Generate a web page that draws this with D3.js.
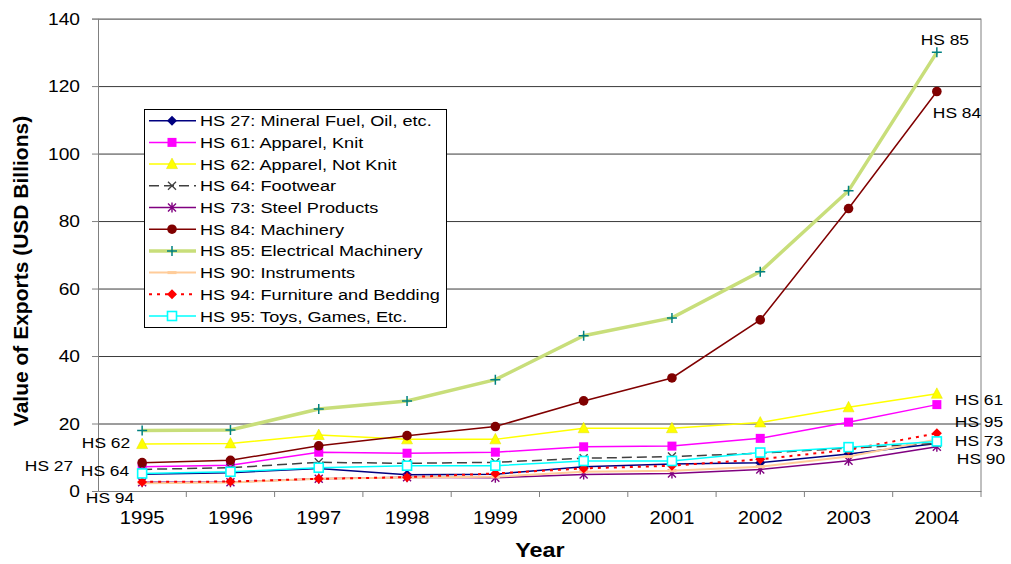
<!DOCTYPE html>
<html>
<head>
<meta charset="utf-8">
<script src="https://cdn.jsdelivr.net/npm/d3@7"></script>
<style>
  body { margin: 0; background: #fff; }
  text { font-family: "Liberation Sans", Arial, sans-serif; fill: #000; }
</style>
</head>
<body>
<div id="chart"></div>
<script>
// ---------------- data (USD billions) ----------------
var years = [1995, 1996, 1997, 1998, 1999, 2000, 2001, 2002, 2003, 2004];
var hs27 = [5.0, 5.4, 6.7, 4.8, 5.0, 7.2, 8.0, 8.4, 11.0, 14.1];
var hs61 = [7.2, 7.6, 11.5, 11.2, 11.5, 13.1, 13.3, 15.6, 20.4, 25.6];
var hs62 = [13.9, 14.1, 16.6, 15.3, 15.3, 18.6, 18.6, 20.3, 24.8, 28.8];
var hs64 = [6.4, 6.9, 8.5, 8.2, 8.5, 9.7, 10.2, 11.2, 12.7, 14.1];
var hs73 = [2.6, 2.6, 3.6, 4.1, 3.9, 4.9, 5.2, 6.4, 9.0, 13.1];
var hs84 = [8.4, 9.1, 13.4, 16.4, 19.1, 26.7, 33.5, 50.7, 83.7, 118.4];
var hs85 = [17.9, 18.1, 24.3, 26.7, 33.0, 46.0, 51.3, 65.0, 89.0, 130.0];
var hs90 = [2.3, 2.5, 3.6, 4.0, 4.2, 5.7, 6.0, 7.2, 10.2, 15.3];
var hs94 = [2.7, 2.8, 3.6, 4.1, 5.2, 6.7, 7.5, 9.4, 12.2, 17.1];
var hs95 = [5.2, 5.7, 6.9, 7.5, 7.5, 8.9, 8.9, 11.4, 13.0, 14.7];
var yTicks = [0, 20, 40, 60, 80, 100, 120, 140];

var series = [
  {name: "HS 27: Mineral Fuel, Oil, etc.", values: hs27, color: "#000080", width: 1.5, marker: "diamond", mColor: "#000080"},
  {name: "HS 61: Apparel, Knit", values: hs61, color: "#ff00ff", width: 1.5, marker: "square", mColor: "#ff00ff"},
  {name: "HS 62: Apparel, Not Knit", values: hs62, color: "#ffff00", width: 1.5, marker: "triangle", mColor: "#ffff00"},
  {name: "HS 64: Footwear", values: hs64, color: "#404040", width: 1.5, dash: "10,5", marker: "x", mColor: "#404040"},
  {name: "HS 73: Steel Products", values: hs73, color: "#800080", width: 1.5, marker: "star", mColor: "#800080"},
  {name: "HS 84: Machinery", values: hs84, color: "#800000", width: 1.5, marker: "circle", mColor: "#800000"},
  {name: "HS 85: Electrical Machinery", values: hs85, color: "#c8de7a", width: 3.5, marker: "plus", mColor: "#008080"},
  {name: "HS 90: Instruments", values: hs90, color: "#ffcc99", width: 2, marker: "dash", mColor: "#ffcc99"},
  {name: "HS 94: Furniture and Bedding", values: hs94, color: "#ff0000", width: 2, dash: "3,5", marker: "diamond", mColor: "#ff0000"},
  {name: "HS 95: Toys, Games, Etc.", values: hs95, color: "#00ffff", width: 1.5, marker: "hollowSquare", mColor: "#00ffff"}
];

// end-of-line annotations: which value/year they sit next to
var pointLabels = [
  {text: "HS 85", year: 2004, value: 133.8, dx: 8, anchor: "middle"},
  {text: "HS 84", year: 2004, value: 112.1, dx: -4, anchor: "start"},
  {text: "HS 61", year: 2004, value: 27.0, dx: 18, anchor: "start"},
  {text: "HS 95", year: 2004, value: 20.6, dx: 18, anchor: "start"},
  {text: "HS 73", year: 2004, value: 14.8, dx: 18, anchor: "start"},
  {text: "HS 90", year: 2004, value: 9.5, dx: 20, anchor: "start"},
  {text: "HS 62", year: 1995, value: 14.2, dx: -12, anchor: "end"},
  {text: "HS 27", year: 1995, value: 7.4, dx: -69, anchor: "end"},
  {text: "HS 64", year: 1995, value: 5.9, dx: -13, anchor: "end"},
  {text: "HS 94", year: 1995, value: -2.1, dx: -8, anchor: "end"}
];

// ---------------- layout ----------------
var W = 1011, H = 564;
var plot = {left: 98, right: 981, top: 18.6, bottom: 491};

var svg = d3.select("#chart").append("svg")
  .attr("width", W).attr("height", H);

var x = d3.scaleBand().domain(years).range([plot.left, plot.right]).padding(0);
var y = d3.scaleLinear().domain([0, 140]).range([plot.bottom, plot.top]);
var cx = function(yr) { return x(yr) + x.bandwidth() / 2; };

// gridlines
svg.append("g")
  .attr("transform", "translate(" + plot.left + ",0)")
  .call(d3.axisLeft(y).tickValues(yTicks.slice(1)).tickSize(-(plot.right - plot.left)).tickFormat(""))
  .call(function(g) {
    g.select(".domain").remove();
    g.selectAll("line").attr("stroke", "#3a3a3a").attr("stroke-width", 1);
  });

// right border of the plot area
svg.append("line")
  .attr("x1", plot.right).attr("x2", plot.right)
  .attr("y1", plot.top).attr("y2", plot.bottom)
  .attr("stroke", "#808080");

// y axis with labels
var ySx = 1.2;
svg.append("g")
  .attr("transform", "translate(" + plot.left + ",0)")
  .call(d3.axisLeft(y).tickValues(yTicks).tickSize(6).tickPadding(0))
  .call(function(g) {
    g.select(".domain").attr("stroke", "#808080");
    g.selectAll(".tick line").attr("stroke", "#808080");
    g.selectAll(".tick text")
      .attr("x", -18 / ySx)
      .attr("dy", "0.36em")
      .attr("transform", "scale(" + ySx + ",1)")
      .style("font-size", "16px");
  });

// x axis: labels at the centre, ticks at band edges
var xSx = 1.09;
svg.append("g")
  .attr("transform", "translate(0," + plot.bottom + ")")
  .call(d3.axisBottom(x).tickSizeInner(0).tickSizeOuter(0).tickPadding(20))
  .call(function(g) {
    g.select(".domain").attr("stroke", "#808080");
    g.selectAll(".tick text")
      .attr("transform", "scale(" + xSx + ",1)")
      .attr("x", 0)
      .style("font-size", "18.5px");
  });

svg.append("g").selectAll("line")
  .data(years.slice(1).concat(["end"]))
  .enter().append("line")
  .attr("x1", function(d) { return d === "end" ? plot.right : x(d); })
  .attr("x2", function(d) { return d === "end" ? plot.right : x(d); })
  .attr("y1", plot.bottom).attr("y2", plot.bottom + 6)
  .attr("stroke", "#808080");

// ---------------- markers ----------------
function drawMarker(g, type, color) {
  switch (type) {
    case "diamond":
      g.append("path").attr("d", "M0,-5L5,0L0,5L-5,0Z").attr("fill", color);
      break;
    case "square":
      g.append("rect").attr("x", -4.5).attr("y", -4.5).attr("width", 9).attr("height", 9)
        .attr("fill", color);
      break;
    case "hollowSquare":
      g.append("rect").attr("x", -4.5).attr("y", -4.5).attr("width", 9).attr("height", 9)
        .attr("fill", "#fff").attr("stroke", color).attr("stroke-width", 1.6);
      break;
    case "triangle":
      g.append("path").attr("d", "M0,-6L5.5,4.5L-5.5,4.5Z").attr("fill", color)
        .attr("stroke", "#e0e000").attr("stroke-width", 0.5);
      break;
    case "circle":
      g.append("circle").attr("r", 4.8).attr("fill", color);
      break;
    case "plus":
      g.append("path").attr("d", "M-5,0H5M0,-5V5").attr("stroke", color).attr("stroke-width", 1.5);
      break;
    case "x":
      g.append("path").attr("d", "M-4,-4L4,4M-4,4L4,-4").attr("stroke", color).attr("stroke-width", 1.3);
      break;
    case "star":
      g.append("path").attr("d", "M-4,-4L4,4M-4,4L4,-4M0,-5V5").attr("stroke", color).attr("stroke-width", 1.4);
      break;
    case "dash":
      g.append("path").attr("d", "M-4.5,0H4.5").attr("stroke", color).attr("stroke-width", 3);
      break;
  }
}

// ---------------- series ----------------
var line = d3.line()
  .x(function(d) { return cx(d.year); })
  .y(function(d) { return y(d.value); });

series.forEach(function(s) {
  var pts = years.map(function(yr, i) { return {year: yr, value: s.values[i]}; });
  var g = svg.append("g");
  g.append("path")
    .datum(pts)
    .attr("d", line)
    .attr("fill", "none")
    .attr("stroke", s.color)
    .attr("stroke-width", s.width)
    .attr("stroke-dasharray", s.dash || null);
  g.selectAll("g.mk")
    .data(pts)
    .enter().append("g")
    .attr("class", "mk")
    .attr("transform", function(d) { return "translate(" + cx(d.year) + "," + y(d.value) + ")"; })
    .each(function() { drawMarker(d3.select(this), s.marker, s.mColor); });
});

// ---------------- point labels ----------------
var lSx = 1.2;
svg.append("g").selectAll("text")
  .data(pointLabels)
  .enter().append("text")
  .attr("transform", function(d) {
    return "translate(" + (cx(d.year) + d.dx) + "," + y(d.value) + ") scale(" + lSx + ",1)";
  })
  .attr("dy", "0.36em")
  .attr("text-anchor", function(d) { return d.anchor; })
  .style("font-size", "14.5px")
  .text(function(d) { return d.text; });

// ---------------- legend ----------------
var leg = svg.append("g");
leg.append("rect")
  .attr("x", 144.5).attr("y", 109.5).attr("width", 302).attr("height", 218)
  .attr("fill", "#fff").attr("stroke", "#000").attr("stroke-width", 1);

var rows = leg.selectAll("g.row")
  .data(series)
  .enter().append("g")
  .attr("class", "row")
  .attr("transform", function(d, i) { return "translate(0," + (120.7 + i * 21.7) + ")"; });

rows.append("line")
  .attr("x1", 149).attr("x2", 196).attr("y1", 0).attr("y2", 0)
  .attr("stroke", function(d) { return d.color; })
  .attr("stroke-width", function(d) { return d.width; })
  .attr("stroke-dasharray", function(d) { return d.dash || null; });

rows.append("g")
  .attr("transform", "translate(172,0)")
  .each(function(d) { drawMarker(d3.select(this), d.marker, d.mColor); });

rows.append("text")
  .attr("transform", "translate(200,0) scale(1.17,1)")
  .attr("dy", "0.36em")
  .style("font-size", "15.5px")
  .text(function(d) { return d.name; });

// ---------------- axis titles ----------------
svg.append("text")
  .attr("transform", "translate(27.5,271) rotate(-90)")
  .attr("text-anchor", "middle")
  .style("font-size", "21px")
  .style("font-weight", "bold")
  .text("Value of Exports (USD Billions)");

svg.append("text")
  .attr("transform", "translate(540,557) scale(1.17,1)")
  .attr("text-anchor", "middle")
  .style("font-size", "20px")
  .style("font-weight", "bold")
  .text("Year");
</script>
</body>
</html>
